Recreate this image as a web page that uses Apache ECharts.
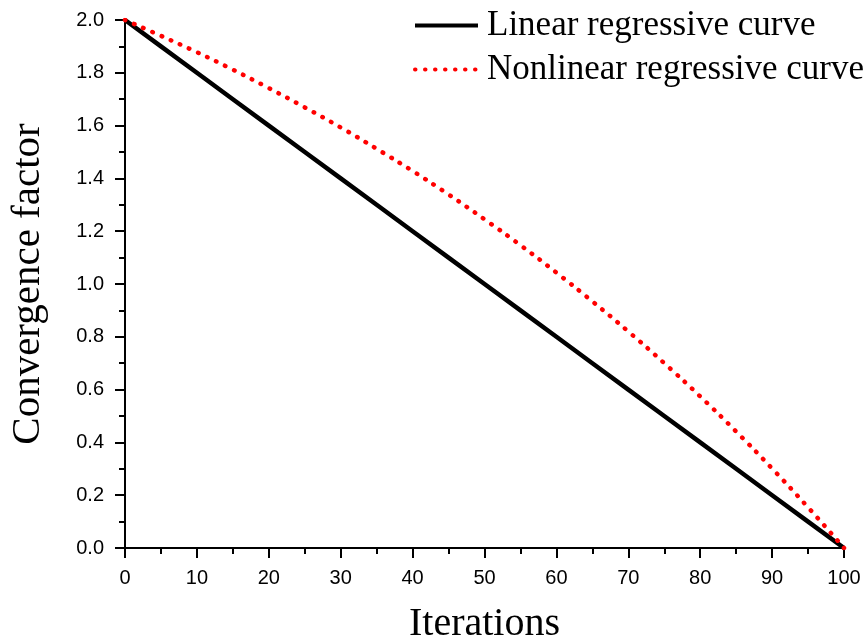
<!DOCTYPE html>
<html>
<head>
<meta charset="utf-8">
<title>Convergence factor</title>
<script src="https://cdn.jsdelivr.net/npm/echarts@6/dist/echarts.min.js"></script>
<style>
    html, body { margin: 0; padding: 0; background: #fff; }
    #convergence_chart { width: 866px; height: 643px; }
</style>
</head>
<body>
<div id="convergence_chart"></div>
<script>
// Chart data
// ------------------------------

var iterations = [0, 5, 10, 15, 20, 25, 30, 35, 40, 45, 50, 55, 60, 65, 70, 75, 80, 85, 90, 95, 100];
var linearValues = [2.0, 1.9, 1.8, 1.7, 1.6, 1.5, 1.4, 1.3, 1.2, 1.1, 1.0, 0.9, 0.8, 0.7, 0.6, 0.5, 0.4, 0.3, 0.2, 0.1, 0.0];
var nonlinearValues = [2.0, 1.940, 1.878, 1.812, 1.742, 1.669, 1.593, 1.512, 1.428, 1.339, 1.245, 1.147, 1.043, 0.934, 0.820, 0.700, 0.574, 0.441, 0.301, 0.154, 0.0];
var seriesNames = ['Linear regressive curve', 'Nonlinear regressive curve'];


// Setup chart
// ------------------------------

var chartElement = document.getElementById('convergence_chart');
var chart = echarts.init(chartElement, null, { renderer: 'canvas' });

var pairUp = function(values) {
    return iterations.map(function(x, i) {
        return [x, values[i]];
    });
};

var serifFont = '"Liberation Serif", "Times New Roman", serif';
var sansFont = '"Liberation Sans", Arial, sans-serif';

// Shared axis look
var axisLine = { show: true, onZero: false, lineStyle: { color: '#000', width: 2 } };
var axisTick = { show: true, inside: false, length: 10, lineStyle: { color: '#000', width: 2 } };
var minorTick = { show: true, splitNumber: 2, length: 6, lineStyle: { color: '#000', width: 2 } };

chart.setOption({
    animation: false,
    backgroundColor: '#fff',

    grid: {
        left: 125,
        right: 22,
        top: 20,
        bottom: 95,
        containLabel: false,
        outerBoundsMode: 'none'
    },

    legend: {
        orient: 'vertical',
        left: 413,
        top: 8,
        padding: 0,
        align: 'left',
        itemWidth: 63,
        itemHeight: 4,
        itemGap: 9,
        data: seriesNames,
        itemStyle: { opacity: 0 },
        lineStyle: { width: 4 },
        textStyle: {
            fontFamily: serifFont,
            fontSize: 35,
            color: '#000',
            padding: [0, 0, 0, 4]
        }
    },

    xAxis: {
        type: 'value',
        min: 0,
        max: 100,
        interval: 10,
        name: 'Iterations',
        nameLocation: 'middle',
        nameGap: 56,
        nameTextStyle: { fontFamily: serifFont, fontSize: 40, color: '#000' },
        axisLine: axisLine,
        axisTick: axisTick,
        minorTick: minorTick,
        splitLine: { show: false },
        axisLabel: { fontFamily: sansFont, fontSize: 20, color: '#000', margin: 20 }
    },

    yAxis: {
        type: 'value',
        min: 0,
        max: 2,
        interval: 0.2,
        name: 'Convergence factor',
        nameLocation: 'middle',
        nameGap: 76,
        nameTextStyle: { fontFamily: serifFont, fontSize: 41, color: '#000' },
        axisLine: axisLine,
        axisTick: axisTick,
        minorTick: minorTick,
        splitLine: { show: false },
        axisLabel: {
            fontFamily: sansFont,
            fontSize: 20,
            color: '#000',
            margin: 21,
            formatter: function(v) { return v.toFixed(1); }
        }
    },

    series: [
        {
            name: seriesNames[0],
            type: 'line',
            symbol: 'none',
            silent: true,
            data: pairUp(linearValues),
            itemStyle: { color: '#000' },
            lineStyle: { color: '#000', width: 4.5 }
        },
        {
            name: seriesNames[1],
            type: 'line',
            symbol: 'none',
            smooth: true,
            silent: true,
            z: 3,
            data: pairUp(nonlinearValues),
            itemStyle: { color: '#f00' },
            lineStyle: { color: '#f00', width: 4.5, type: [0.5, 9.5], cap: 'round' }
        }
    ]
});
</script>
</body>
</html>
